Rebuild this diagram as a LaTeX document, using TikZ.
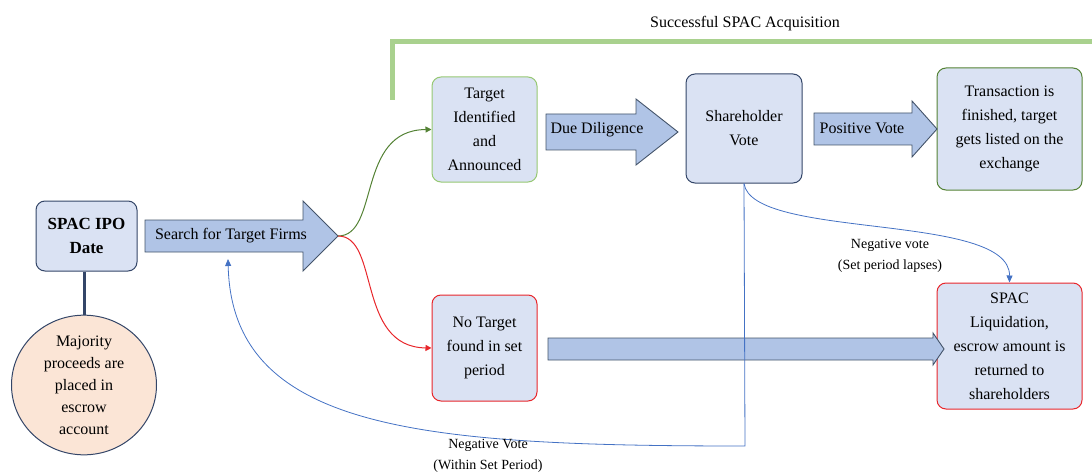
\documentclass[tikz,border=0pt]{standalone}
\usepackage{fontspec}
\setmainfont{Liberation Serif}
\usetikzlibrary{shapes.geometric,arrows.meta}

\definecolor{boxblue}{RGB}{218,226,243}
\definecolor{arrowblue}{RGB}{176,196,230}
\definecolor{arrowline}{RGB}{68,84,106}
\definecolor{darkblue}{RGB}{52,70,104}
\definecolor{peach}{RGB}{251,229,214}
\definecolor{lightgreen}{RGB}{150,200,115}
\definecolor{darkgreen}{RGB}{84,130,53}
\definecolor{boxred}{RGB}{232,38,43}
\definecolor{curveblue}{RGB}{68,114,196}
\definecolor{bargreen}{RGB}{169,209,142}

\tikzset{
  box/.style={draw=darkblue,fill=boxblue,rounded corners=9pt,line width=1pt,
    align=center,inner sep=0pt,font=\fontsize{16}{24}\selectfont},
  blockarrow/.style={draw=arrowline,fill=arrowblue,line width=0.9pt},
  small/.style={align=center,font=\fontsize{14}{21}\selectfont}
}

\begin{document}
\begin{tikzpicture}[x=1pt,y=-1pt]
\useasboundingbox (0,0) rectangle (1092,476);

% top bracket
\draw[bargreen,line width=5pt] (392,100) -- (392,42) -- (1094,42);
\node[small,font=\fontsize{16}{20}\selectfont] (title) at (745,24) {Successful SPAC Acquisition};

% boxes
\node[box,minimum width=101pt,minimum height=70pt,font=\fontsize{17}{24}\selectfont\bfseries] (ipo) at (86.5,236) {SPAC IPO\\Date};
\node[ellipse,draw=darkblue,fill=peach,line width=1pt,minimum width=145pt,minimum height=125pt,
  inner sep=0pt,align=center,font=\fontsize{16}{22}\selectfont] (escrow) at (84,385)
  {Majority\\proceeds are\\placed in\\escrow\\account};
\node[box,draw=lightgreen,minimum width=105pt,minimum height=105pt] (target) at (484.5,129.5)
  {Target\\Identified\\and\\Announced};
\node[box,draw=boxred,minimum width=105pt,minimum height=106pt] (notarget) at (484.5,348)
  {No Target\\found in set\\period};
\node[box,minimum width=116pt,minimum height=109pt] (vote) at (744,128.5) {Shareholder\\Vote};
\node[box,draw=darkgreen,minimum width=145pt,minimum height=122pt] (done) at (1009.5,129)
  {Transaction is\\finished, target\\gets listed on the\\exchange};
\node[box,draw=boxred,minimum width=145pt,minimum height=126pt] (liq) at (1009.5,346)
  {SPAC\\Liquidation,\\escrow amount is\\returned to\\shareholders};

% block arrows
\foreach \xa/\xh/\xt/\yc/\hb/\hh in {145/303/338/236/16/35,546/636/678/132/18/33,814/912/937/129/16/28,548/933/944/349/11/16}
\draw[blockarrow] (\xa,\yc-\hb) -- (\xh,\yc-\hb) -- (\xh,\yc-\hh) -- (\xt,\yc)
  -- (\xh,\yc+\hh) -- (\xh,\yc+\hb) -- (\xa,\yc+\hb) -- cycle;

\node[font=\fontsize{16}{20}\selectfont] (search) at (231,236) {Search for Target Firms};
\node[font=\fontsize{16}{20}\selectfont] (dd) at (597,130) {Due Diligence};
\node[font=\fontsize{16}{20}\selectfont] (pv) at (862,128) {Positive Vote};
\coordinate (fork) at (338,236);
\coordinate (back) at (228,259);
\coordinate (low) at (745,446);

% connectors
\draw[darkblue,line width=3pt] (escrow.north |- ipo.south) -- (escrow.north);
\draw[darkgreen,line width=1pt,-{Triangle[length=6pt,width=6pt]}] (fork) .. controls (380,236) and (356,130) .. (target.west);
\draw[boxred,line width=1pt,-{Triangle[length=6pt,width=6pt]}] (fork) .. controls (380,236) and (356,347) .. (notarget.west);
\draw[curveblue,line width=0.8pt,-{Triangle[length=7pt,width=6pt]}] (vote.south) .. controls (752,240) and (1010,212) .. (liq.north);
\draw[curveblue,line width=0.8pt,-{Triangle[length=7pt,width=6pt]}] (vote.south) -- (low)
  .. controls (420,446) and (232,430) .. (back);

\node[small] (lapse) at (890,256) {Negative vote\\(Set period lapses)};
\node[small] (within) at (488,456) {Negative Vote\\(Within Set Period)};
\end{tikzpicture}
\end{document}
